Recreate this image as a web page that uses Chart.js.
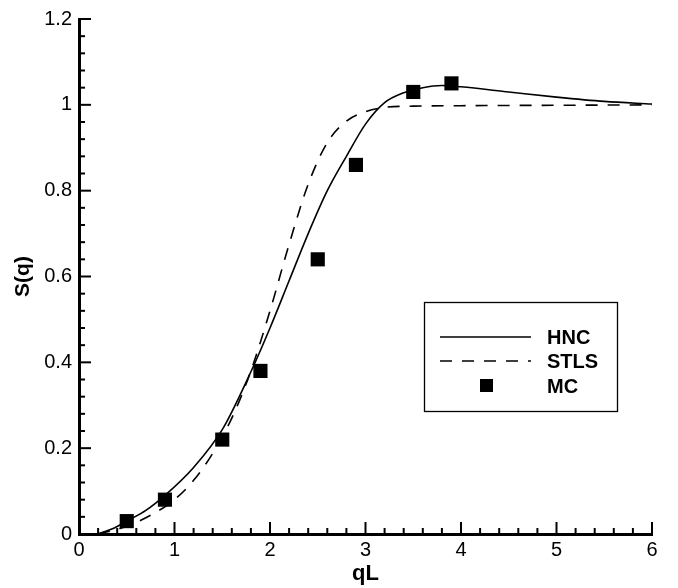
<!DOCTYPE html>
<html>
<head>
<meta charset="utf-8">
<script src="https://cdn.jsdelivr.net/npm/chart.js@4.4.1/dist/chart.umd.min.js"></script>
<style>
  html, body { margin: 0; padding: 0; background: #fff; }
  #wrap { width: 678px; height: 588px; position: relative; }
</style>
</head>
<body>
<div id="wrap"><canvas id="sq"></canvas></div>
<script>
// S(q) vs qL: HNC and STLS curves, MC points
const hncQ = [0.2, 0.35, 0.5, 0.7, 0.9, 1.2, 1.5, 1.8, 2.0, 2.2, 2.4, 2.6, 2.8, 3.0, 3.2, 3.4, 3.6, 3.8, 4.0, 4.5, 5.0, 5.5, 6.0];
const hncS = [0.0, 0.012, 0.03, 0.055, 0.09, 0.155, 0.243, 0.378, 0.48, 0.59, 0.70, 0.80, 0.88, 0.955, 1.005, 1.028, 1.04, 1.045, 1.042, 1.03, 1.018, 1.008, 1.002];

const stlsQ = [0.2, 0.5, 0.8, 1.0, 1.2, 1.4, 1.6, 1.8, 2.0, 2.2, 2.4, 2.6, 2.8, 3.0, 3.2, 3.5, 4.0, 5.0, 6.0];
const stlsS = [0.0, 0.018, 0.05, 0.08, 0.125, 0.188, 0.27, 0.38, 0.52, 0.675, 0.815, 0.912, 0.962, 0.984, 0.994, 0.997, 0.998, 0.999, 1.0];

const mcQ = [0.5, 0.9, 1.5, 1.9, 2.5, 2.9, 3.5, 3.9];
const mcS = [0.03, 0.08, 0.22, 0.38, 0.64, 0.86, 1.03, 1.05];

const seriesLabels = ["HNC", "STLS", "MC"];

const FONT = "'Liberation Sans', Arial, Helvetica, sans-serif";

function pairs(xs, ys) {
  return xs.map((x, i) => ({ x, y: ys[i] }));
}

// inward major/minor ticks, like the original plot
const innerTicks = {
  id: "innerTicks",
  afterDatasetsDraw(chart) {
    const { ctx, scales: { x, y } } = chart;
    ctx.save();
    ctx.strokeStyle = "#000";
    ctx.lineWidth = 2;
    const base = y.getPixelForValue(0);
    for (let i = 0; i <= 30; i++) {
      const px = x.getPixelForValue(i * 0.2);
      const len = i % 5 === 0 ? 12 : 6;
      ctx.beginPath();
      ctx.moveTo(px, base);
      ctx.lineTo(px, base - len);
      ctx.stroke();
    }
    const left = x.getPixelForValue(0);
    for (let j = 0; j <= 30; j++) {
      const py = y.getPixelForValue(j * 0.04);
      const len = j % 5 === 0 ? 12 : 6;
      ctx.beginPath();
      ctx.moveTo(left, py);
      ctx.lineTo(left + len, py);
      ctx.stroke();
    }
    ctx.restore();
  },
};

// boxed legend inside the plot
const boxLegend = {
  id: "boxLegend",
  afterDraw(chart) {
    const ctx = chart.ctx;
    const bx = 424, by = 302, bw = 193, bh = 109;
    const rows = [337, 361, 386];
    ctx.save();
    ctx.fillStyle = "#fff";
    ctx.fillRect(bx, by, bw, bh);
    ctx.strokeStyle = "#000";
    ctx.lineWidth = 1.3;
    ctx.strokeRect(bx + 0.5, by + 0.5, bw, bh);

    ctx.lineWidth = 1.5;
    ctx.beginPath();
    ctx.moveTo(440, rows[0]);
    ctx.lineTo(531, rows[0]);
    ctx.stroke();

    ctx.setLineDash([12, 10]);
    ctx.beginPath();
    ctx.moveTo(440, rows[1]);
    ctx.lineTo(531, rows[1]);
    ctx.stroke();
    ctx.setLineDash([]);

    ctx.fillStyle = "#000";
    ctx.fillRect(480, rows[2] - 7, 13, 13);

    ctx.font = "bold 20px " + FONT;
    ctx.textBaseline = "middle";
    seriesLabels.forEach((t, i) => ctx.fillText(t, 547, rows[i] + 1));
    ctx.restore();
  },
};

new Chart(document.getElementById("sq"), {
  type: "scatter",
  data: {
    datasets: [
      {
        label: seriesLabels[0],
        data: pairs(hncQ, hncS),
        showLine: true,
        borderColor: "#000",
        borderWidth: 1.6,
        pointRadius: 0,
        cubicInterpolationMode: "monotone",
      },
      {
        label: seriesLabels[1],
        data: pairs(stlsQ, stlsS),
        showLine: true,
        borderColor: "#000",
        borderWidth: 1.6,
        borderDash: [12, 10],
        pointRadius: 0,
        cubicInterpolationMode: "monotone",
      },
      {
        label: seriesLabels[2],
        data: pairs(mcQ, mcS),
        showLine: false,
        pointStyle: "rect",
        pointRadius: 10,
        pointBackgroundColor: "#000",
        pointBorderColor: "#000",
        pointBorderWidth: 0,
      },
    ],
  },
  options: {
    responsive: true,
    maintainAspectRatio: false,
    animation: false,
    layout: { padding: { top: 17, right: 26, left: 0, bottom: 0 } },
    plugins: { legend: { display: false }, tooltip: { enabled: false } },
    scales: {
      x: {
        type: "linear",
        min: 0,
        max: 6,
        grid: { display: false, drawTicks: false, tickLength: 0 },
        border: { display: true, color: "#000", width: 3 },
        ticks: { stepSize: 1, padding: 4, color: "#000", font: { family: FONT, size: 20 } },
        title: { display: true, text: "qL", color: "#000", font: { family: FONT, size: 22, weight: "bold" }, padding: { top: 0, bottom: 1 } },
        afterFit: (s) => { s.height = 54; },
      },
      y: {
        type: "linear",
        min: 0,
        max: 1.2,
        grid: { display: false, drawTicks: false, tickLength: 0 },
        border: { display: true, color: "#000", width: 3 },
        ticks: {
          stepSize: 0.2,
          padding: 7,
          color: "#000",
          font: { family: FONT, size: 20 },
          callback: (v) => String(+v.toFixed(2)),
        },
        title: { display: true, text: "S(q)", color: "#000", font: { family: FONT, size: 21, weight: "bold" }, padding: { top: 11, bottom: 0 } },
        afterFit: (s) => { s.width = 79; },
      },
    },
  },
  plugins: [innerTicks, boxLegend],
});
</script>
</body>
</html>
